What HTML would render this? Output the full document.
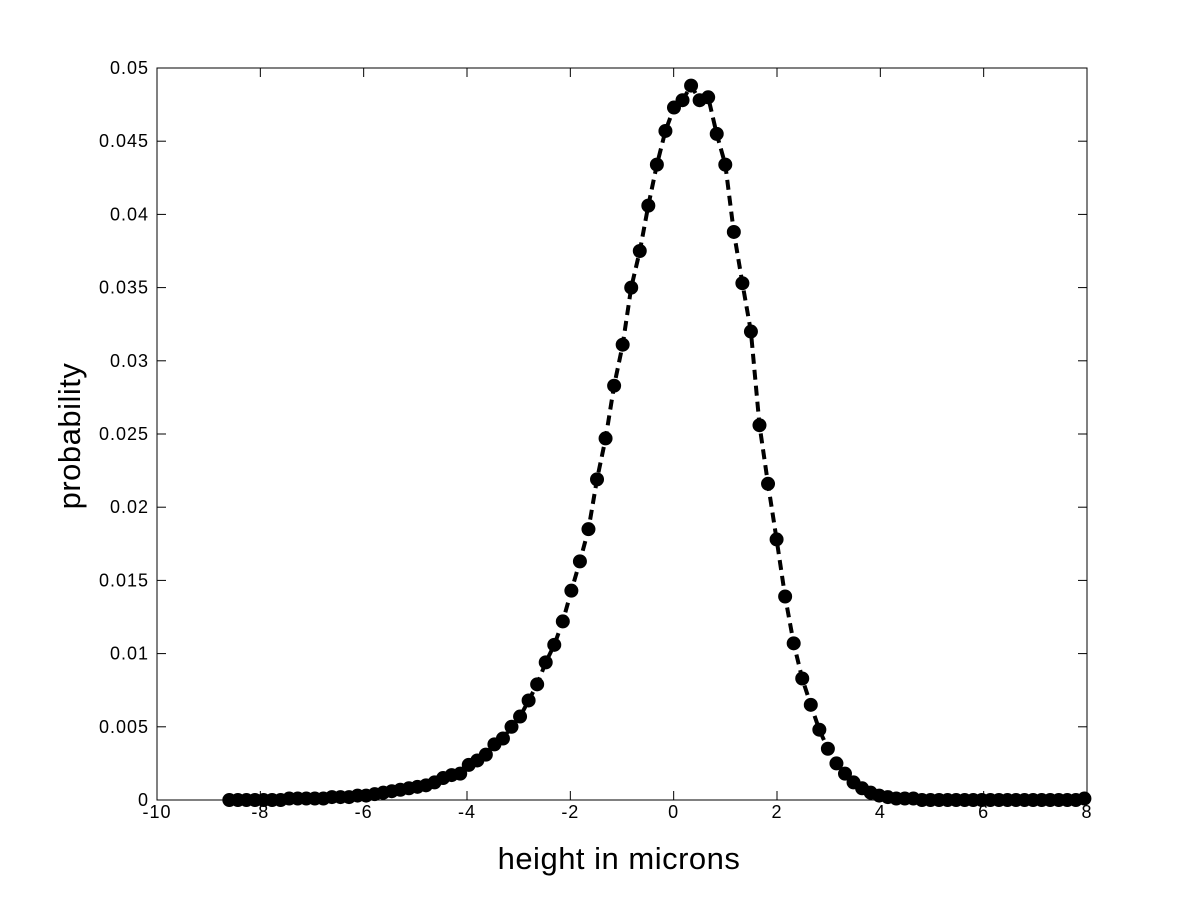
<!DOCTYPE html>
<html><head><meta charset="utf-8"><style>
html,body{margin:0;padding:0;background:#fff;}
svg{display:block;font-family:"Liberation Sans",Arial,sans-serif;}
</style></head><body>
<svg id="chart" width="1201" height="900" viewBox="0 0 1201 900" xmlns="http://www.w3.org/2000/svg">
<rect width="1201" height="900" fill="#fff"/>
<g id="axes"></g>
<g id="series"></g>
<text x="619" y="869" font-size="31" text-anchor="middle" letter-spacing="0.5">height in microns</text>
<text transform="translate(80,436) rotate(-90)" font-size="31" text-anchor="middle" letter-spacing="0.5">probability</text>
</svg>
<script>
const xStart = -8.6;
const xStep = 0.1655;
const probValues = [0,0,0,0,0,0,0,0.0001,0.0001,0.0001,0.0001,0.0001,0.0002,0.0002,0.0002,0.0003,0.0003,0.0004,0.0005,0.0006,
0.0007,0.0008,0.0009,0.0010,0.0012,0.0015,0.0017,0.0018,0.0024,0.0027,0.0031,0.0038,0.0042,0.0050,0.0057,0.0068,0.0079,0.0094,0.0106,0.0122,
0.0143,0.0163,0.0185,0.0219,0.0247,0.0283,0.0311,0.0350,0.0375,0.0406,0.0434,0.0457,0.0473,0.0478,0.0488,0.0478,0.0480,0.0455,0.0434,0.0388,
0.0353,0.0320,0.0256,0.0216,0.0178,0.0139,0.0107,0.0083,0.0065,0.0048,0.0035,0.0025,0.0018,0.0012,0.0008,0.0005,0.0003,0.0002,0.0001,0.0001,
0.0001,0,0,0,0,0,0,0,0,0,0,0,0,0,0,0,0,0,0,0,0.0001];
const xTicks = [-10,-8,-6,-4,-2,0,2,4,6,8];
const yTicks = [0,0.005,0.01,0.015,0.02,0.025,0.03,0.035,0.04,0.045,0.05];
const yTickLabels = ["0","0.005","0.01","0.015","0.02","0.025","0.03","0.035","0.04","0.045","0.05"];

const L=157,R=1087,T=68,B=800;
const xMin=-10,xMax=8,yMin=0,yMax=0.05;
function sx(v){return L+(v-xMin)/(xMax-xMin)*(R-L);}
function sy(v){return B-(v-yMin)/(yMax-yMin)*(B-T);}
const NS="http://www.w3.org/2000/svg";
function mk(tag,attrs,parent){const e=document.createElementNS(NS,tag);for(const k in attrs)e.setAttribute(k,attrs[k]);parent.appendChild(e);return e;}
const axes=document.getElementById('axes');
const box=mk('rect',{x:L,y:T,width:R-L,height:B-T,fill:'none',stroke:'#000','stroke-width':1},axes);


xTicks.forEach(v=>{
  const x=sx(v);
  const t1=mk('line',{x1:x,y1:B,x2:x,y2:B-9,stroke:'#000','stroke-width':1},axes);
  
  
  const t2=mk('line',{x1:x,y1:T,x2:x,y2:T+9,stroke:'#000','stroke-width':1},axes);
  
  
  const lb=mk('text',{x:x,y:B+18,'font-size':18,'text-anchor':'middle','letter-spacing':1},axes);
  lb.textContent=String(v);
  
  
});
yTicks.forEach((v,i)=>{
  const y=sy(v);
  const t1=mk('line',{x1:L,y1:y,x2:L+9,y2:y,stroke:'#000','stroke-width':1},axes);
  
  
  const t2=mk('line',{x1:R,y1:y,x2:R-9,y2:y,stroke:'#000','stroke-width':1},axes);
  
  
  const lb=mk('text',{x:L-8,y:y+6,'font-size':18,'text-anchor':'end','letter-spacing':1},axes);
  lb.textContent=yTickLabels[i];
  
  
});
const g=document.getElementById('series');
const pts=probValues.map((v,i)=>[sx(xStart+i*xStep),sy(v)]);
const line=mk('polyline',{points:pts.map(p=>p[0].toFixed(1)+','+p[1].toFixed(1)).join(' '),fill:'none',stroke:'#000','stroke-width':4,'stroke-dasharray':'10,6'},g);


pts.forEach(p=>{
  const c=mk('circle',{cx:p[0],cy:p[1],r:5.5,fill:'#000',stroke:'#000','stroke-width':3},g);
  
  
});
</script>
</body></html>
